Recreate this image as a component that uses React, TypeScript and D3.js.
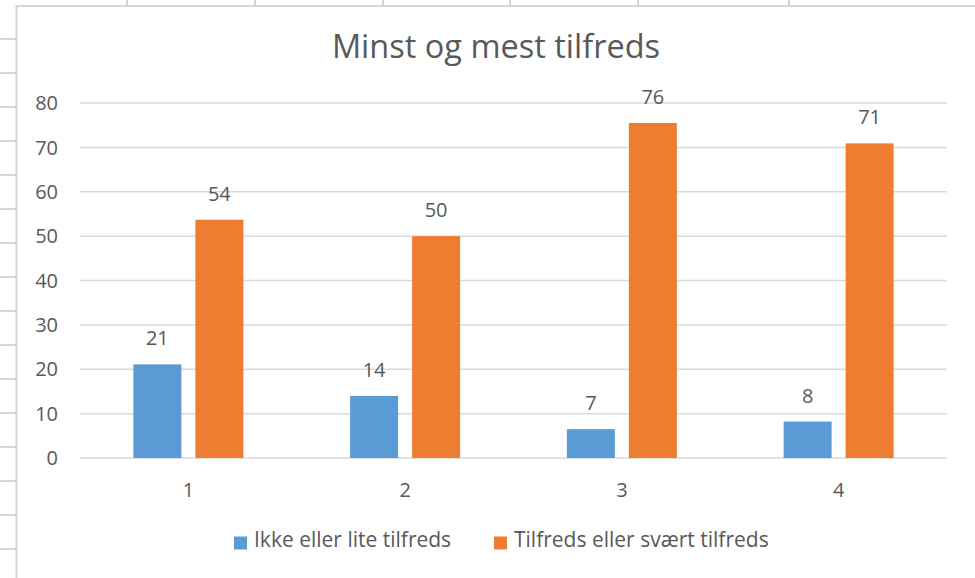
import * as d3 from 'd3';

// --- chart data ---
const categories = ['1', '2', '3', '4'];
const seriesNames = ['Ikke eller lite tilfreds', 'Tilfreds eller svært tilfreds'];
const lowSatisfied = [21.1, 14, 6.5, 8.2];
const highSatisfied = [53.7, 50, 75.5, 70.9];
const yTicks = [0, 10, 20, 30, 40, 50, 60, 70, 80];
const colors = ['#5b9bd5', '#ed7d31'];

// spreadsheet backdrop (column edges along the top)
const sheetColumns = [127, 255, 383, 510, 638, 789];

const W = 975;
const H = 578;
const FONT = "'Open Sans', sans-serif";
const TEXT = '#595959';

function App() {
  const plot = { left: 80, right: 947, top: 103, bottom: 458 };

  const x0 = d3.scaleBand<string>()
    .domain(categories)
    .range([plot.left, plot.right])
    .paddingInner(0.4925)
    .paddingOuter(0.2463);

  const x1 = d3.scaleBand<string>()
    .domain(seriesNames)
    .range([0, x0.bandwidth()])
    .paddingInner(0.2258);

  const y = d3.scaleLinear().domain([0, 80]).range([plot.bottom, plot.top]);
  const fmt = d3.format('.0f');

  const series = [lowSatisfied, highSatisfied];

  const rowLines = d3.range(39, H, 34);

  return (
    <svg width={W} height={H} style={{ position: 'absolute', left: 0, top: 0, background: '#fff' }}>
      {/* spreadsheet grid behind the chart */}
      <g stroke="#d6d6d6" strokeWidth={2}>
        <line x1={16.5} x2={16.5} y1={5} y2={H} />
        <line x1={16} x2={W} y1={6} y2={6} />
        {sheetColumns.map((cx) => (
          <line key={cx} x1={cx} x2={cx} y1={0} y2={6} />
        ))}
        {rowLines.map((ry) => (
          <line key={ry} x1={0} x2={16} y1={ry} y2={ry} />
        ))}
      </g>

      {/* title */}
      <text x={496} y={58} textAnchor="middle" fontFamily={FONT} fontSize={32.5} fill={TEXT}>
        Minst og mest tilfreds
      </text>

      {/* gridlines + y labels */}
      {yTicks.map((t) => (
        <g key={t}>
          <line x1={plot.left} x2={plot.right} y1={y(t)} y2={y(t)} stroke="#d9d9d9" strokeWidth={1.5} />
          <text x={58} y={y(t)} dy="0.36em" textAnchor="end" fontFamily={FONT} fontSize={20} fill={TEXT}>
            {t}
          </text>
        </g>
      ))}

      {/* bars */}
      {categories.map((c, i) => (
        <g key={c} transform={`translate(${x0(c)},0)`}>
          {seriesNames.map((s, si) => {
            const v = series[si][i];
            const bx = x1(s) ?? 0;
            return (
              <g key={s}>
                <rect x={bx} y={y(v)} width={x1.bandwidth()} height={y(0) - y(v)} fill={colors[si]} />
                <text x={bx + x1.bandwidth() / 2} y={y(v) - 19} textAnchor="middle" fontFamily={FONT} fontSize={20} fill={TEXT}>
                  {fmt(v)}
                </text>
              </g>
            );
          })}
          <text x={x0.bandwidth() / 2} y={497} textAnchor="middle" fontFamily={FONT} fontSize={20} fill={TEXT}>
            {c}
          </text>
        </g>
      ))}

      {/* legend */}
      {seriesNames.map((s, si) => {
        const lx = si === 0 ? 234 : 494;
        return (
          <g key={s}>
            <rect x={lx} y={536.5} width={13} height={13} fill={colors[si]} />
            <text x={lx + 20} y={547} fontFamily={FONT} fontSize={21} fill={TEXT}>
              {s}
            </text>
          </g>
        );
      })}
    </svg>
  );
}

export default App;
